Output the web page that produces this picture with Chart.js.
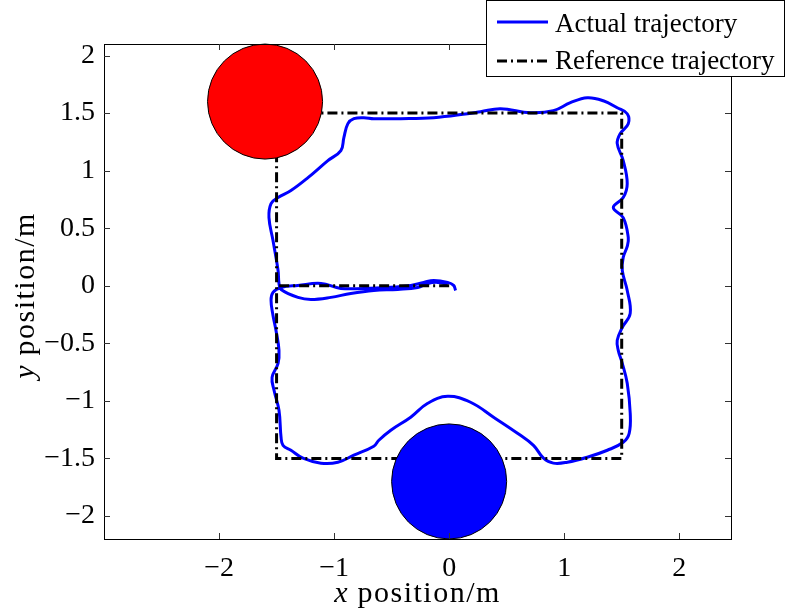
<!DOCTYPE html>
<html>
<head>
<meta charset="utf-8">
<script src="https://cdn.jsdelivr.net/npm/chart.js@4"></script>
<style>
body { margin: 0; background: #fff; }
</style>
</head>
<body>
<canvas id="myChart" width="789" height="614"></canvas>
<script>
// actual robot path (metres)
var actualX = [0.056, 0.039, -0.013, -0.134, -0.221, -0.334, -0.533, -0.742, -0.941, -1.114, -1.314, -1.462,
    -1.531, -1.548, -1.531, -1.505, -1.479, -1.487, -1.539, -1.522, -1.479, -1.461, -1.444, -1.375, -1.271,
    -1.114, -0.967, -0.828, -0.655, -0.611, -0.507, -0.334, -0.186,
    -0.013, 0.186, 0.386, 0.594, 0.733, 0.820, 0.906, 1.028, 1.201, 1.375, 1.513, 1.565, 1.574, 1.548,
    1.505, 1.470, 1.461, 1.505, 1.574, 1.548, 1.505, 1.513, 1.548, 1.557, 1.513, 1.427, 1.513, 1.548,
    1.513, 1.461, 1.487, 1.557, 1.548, 1.461, 1.340, 1.201, 1.054, 0.906, 0.707, 0.447, 0.273, 0.160,
    -0.134, -0.421, -0.655, -0.742, -0.828, -0.880, -0.915, -0.941, -1.054, -1.227, -1.375, -1.487,
    -1.548, -1.566, -1.531, -1.487, -1.479,
    -1.461, -1.314, -1.201, -1.028, -0.855, -0.655, -0.447, -0.273, -0.186, -0.100, -0.013];
var actualY = [-0.041, 0.003, 0.029, 0.046, 0.029, 0.003, -0.015, -0.023, -0.023, 0.020, 0.003, -0.015,
    -0.058, -0.127, -0.258, -0.388, -0.561, -0.674, -0.796, -0.908, -1.082, -1.316, -1.386, -1.429, -1.498,
    -1.541, -1.533, -1.472, -1.394, -1.342, -1.255, -1.142, -1.021,
    -0.961, -1.012, -1.142, -1.281, -1.386, -1.498, -1.541, -1.533, -1.490, -1.429, -1.360, -1.282, -1.108, -0.847,
    -0.674, -0.561, -0.474, -0.362, -0.240, -0.041, 0.133, 0.246, 0.341, 0.419, 0.592, 0.679, 0.766, 0.887,
    1.087, 1.234, 1.321, 1.408, 1.494, 1.546, 1.607, 1.633, 1.590, 1.521, 1.503, 1.538, 1.512, 1.495,
    1.460, 1.451, 1.451, 1.460, 1.451, 1.408, 1.287, 1.174, 1.087, 0.939, 0.827, 0.766,
    0.714, 0.592, 0.392, 0.133, 0.020,
    -0.032, -0.101, -0.119, -0.101, -0.067, -0.041, -0.032, -0.015, 0.020, 0.029, 0.011];

// reference path
var refX = [0, -1.5, -1.5, 1.5, 1.5, -1.5, -1.5];
var refY = [0, 0, -1.5, -1.5, 1.5, 1.5, 0];

// obstacles
var obstacleX = [-1.6, 0];
var obstacleY = [1.6, -1.7];
var obstacleR = 0.5;
var obstacleColors = ['#ff0000', '#0000ff'];

var xTicks = [-2, -1, 0, 1, 2];
var yTicks = [-2, -1.5, -1, -0.5, 0, 0.5, 1, 1.5, 2];
var xRange = [-3, 2.45];
var yRange = [-2.2, 2.1];
var seriesNames = ['Actual trajectory', 'Reference trajectory'];

function toPoints(xs, ys) {
    return xs.map(function (x, i) { return { x: x, y: ys[i] }; });
}

function tickLabel(v) {
    return v < 0 ? '\u2212' + Math.abs(v) : String(v);
}

var serif = "'Liberation Serif', 'Times New Roman', serif";

// "x position/m" with italic variable, centred on (0,0) of current transform
function axisTitle(c, v) {
    var it = 'italic 30px ' + serif, rg = '30px ' + serif;
    c.letterSpacing = '0px';
    c.font = it; var w1 = c.measureText(v).width + 10;
    c.letterSpacing = '1.5px';
    c.font = rg; var w2 = c.measureText('position/m').width;
    var x0 = -(w1 + w2) / 2;
    c.letterSpacing = '0px';
    c.font = it; c.fillText(v, x0, 0);
    c.letterSpacing = '1.5px';
    c.font = rg; c.fillText('position/m', x0 + w1, 0);
    c.letterSpacing = '0px';
}

// box, inward ticks, axis titles and legend, drawn like the matlab figure
var framePlugin = {
    id: 'frame',
    afterDraw: function (chart) {
        var c = chart.ctx, a = chart.chartArea;
        var sx = chart.scales.x, sy = chart.scales.y;
        c.save();
        c.strokeStyle = '#000';
        c.lineWidth = 1;
        c.strokeRect(Math.round(a.left) + 0.5, Math.round(a.top) + 0.5,
            Math.round(a.right - a.left), Math.round(a.bottom - a.top));

        c.strokeStyle = '#333';
        c.beginPath();
        xTicks.forEach(function (v) {
            var p = Math.round(sx.getPixelForValue(v)) + 0.5;
            c.moveTo(p, a.bottom); c.lineTo(p, a.bottom - 6);
            c.moveTo(p, a.top); c.lineTo(p, a.top + 6);
        });
        yTicks.forEach(function (v) {
            var p = Math.round(sy.getPixelForValue(v)) + 0.5;
            c.moveTo(a.left, p); c.lineTo(a.left + 6, p);
            c.moveTo(a.right, p); c.lineTo(a.right - 6, p);
        });
        c.stroke();

        // axis titles
        c.fillStyle = '#000';
        c.textBaseline = 'alphabetic';
        c.save();
        c.translate((a.left + a.right) / 2, 602);
        axisTitle(c, 'x');
        c.restore();
        c.save();
        c.translate(34, (a.top + a.bottom) / 2 + 4);
        c.rotate(-Math.PI / 2);
        axisTitle(c, 'y');
        c.restore();

        // legend
        var ds = chart.data.datasets;
        c.fillStyle = '#fff';
        c.fillRect(486, 0, 299, 77);
        c.strokeStyle = '#000';
        c.lineWidth = 1;
        c.strokeRect(486.5, 0.5, 298, 76);
        c.font = '27px ' + serif;
        c.fillStyle = '#000';
        [0, 1].forEach(function (i) {
            var y = i === 0 ? 22 : 61;
            c.strokeStyle = ds[i].borderColor;
            c.lineWidth = ds[i].borderWidth;
            c.setLineDash(ds[i].borderDash || []);
            c.beginPath(); c.moveTo(497, y); c.lineTo(548, y); c.stroke();
            c.setLineDash([]);
            c.fillText(seriesNames[i], 555, i === 0 ? 32 : 69);
        });
        c.restore();
    }
};

var ctx = document.getElementById('myChart');
var myChart = new Chart(ctx, {
    type: 'scatter',
    data: {
        datasets: [{
            label: seriesNames[0],
            data: toPoints(actualX, actualY),
            showLine: true,
            borderColor: '#0000ff',
            borderWidth: 3,
            tension: 0.4,
            pointRadius: 0,
            order: 2
        }, {
            label: seriesNames[1],
            data: toPoints(refX, refY),
            showLine: true,
            borderColor: '#000000',
            borderWidth: 3,
            borderDash: [10, 4, 2, 4],
            tension: 0,
            pointRadius: 0,
            order: 1
        }, {
            label: 'obstacles',
            data: toPoints(obstacleX, obstacleY),
            showLine: false,
            pointRadius: function (c) {
                var s = c.chart.scales.x;
                return s.getPixelForValue(obstacleR) - s.getPixelForValue(0);
            },
            pointBackgroundColor: obstacleColors,
            pointBorderColor: '#000',
            pointBorderWidth: 1,
            clip: false,
            order: 0
        }]
    },
    options: {
        responsive: false,
        animation: false,
        events: [],
        layout: { padding: { left: 0, top: 44, right: 58, bottom: 0 } },
        plugins: { legend: { display: false }, tooltip: { enabled: false } },
        scales: {
            x: {
                type: 'linear',
                min: xRange[0],
                max: xRange[1],
                afterBuildTicks: function (s) { s.ticks = xTicks.map(function (v) { return { value: v }; }); },
                afterFit: function (s) { s.height = 75; },
                grid: { display: false, drawTicks: false },
                border: { display: false },
                ticks: { color: '#000', font: { family: serif, size: 28 }, padding: 13, maxRotation: 0, autoSkip: false, callback: tickLabel }
            },
            y: {
                type: 'linear',
                min: yRange[0],
                max: yRange[1],
                afterBuildTicks: function (s) { s.ticks = yTicks.map(function (v) { return { value: v }; }); },
                afterFit: function (s) { s.width = 104; },
                grid: { display: false, drawTicks: false },
                border: { display: false },
                ticks: { color: '#000', font: { family: serif, size: 28 }, padding: 9, autoSkip: false, callback: tickLabel }
            }
        }
    },
    plugins: [framePlugin]
});
</script>
</body>
</html>
